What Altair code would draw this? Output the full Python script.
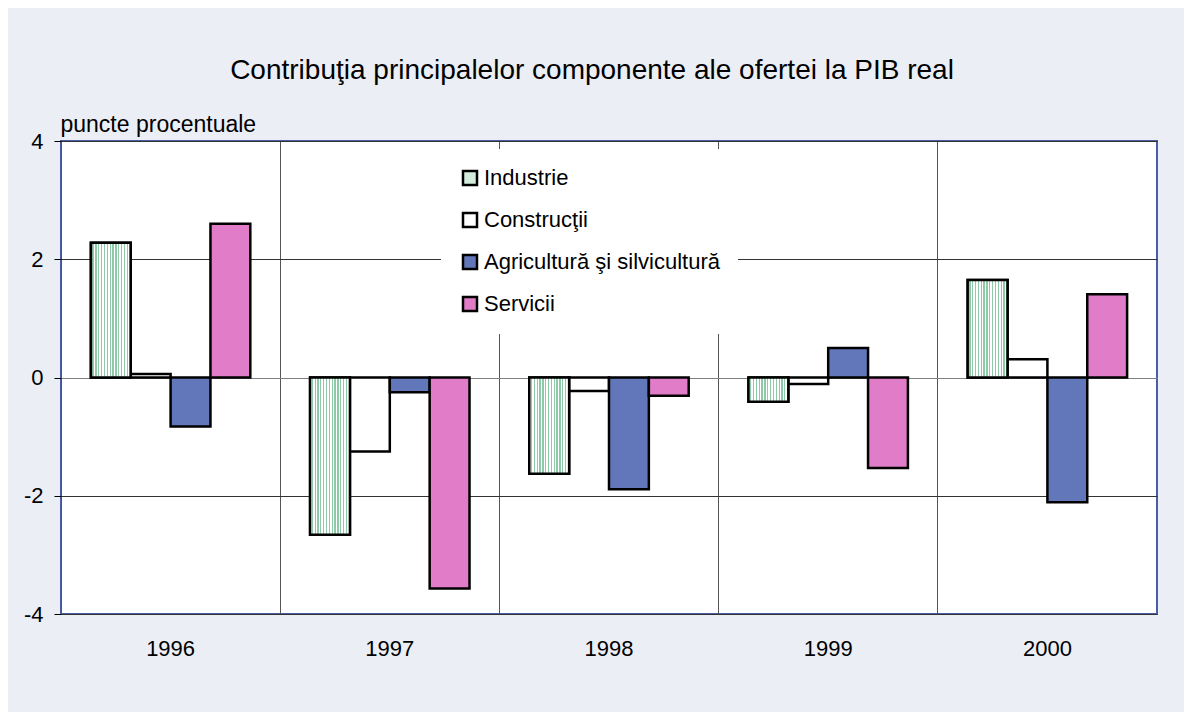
import altair as alt
import pandas as pd

years = ["1996", "1997", "1998", "1999", "2000"]
series = ["Industrie", "Construcţii", "Agricultură şi silvicultură", "Servicii"]
industrie = [2.28, -2.66, -1.63, -0.41, 1.65]
constructii = [0.06, -1.25, -0.23, -0.11, 0.31]
agricultura = [-0.83, -0.25, -1.89, 0.50, -2.11]
servicii = [2.60, -3.57, -0.31, -1.53, 1.41]
colors = ["#d3ecdc", "#ffffff", "#6277b9", "#e07cc8"]
y_ticks = [-4, -2, 0, 2, 4]

rows = []
for s, vals in zip(series, [industrie, constructii, agricultura, servicii]):
    for yr, v in zip(years, vals):
        rows.append({"an": yr, "serie": s, "val": v})
df = pd.DataFrame(rows)

FONT = "Liberation Sans"

# vertical thin stripes for Industrie
n = 14
stops = []
for i in range(n):
    stops += [
        alt.GradientStop(offset=i / n, color="#ffffff"),
        alt.GradientStop(offset=(i + 0.55) / n, color="#ffffff"),
        alt.GradientStop(offset=(i + 0.55) / n, color="#8fcaa8"),
        alt.GradientStop(offset=(i + 1) / n, color="#8fcaa8"),
    ]

x_enc = alt.X(
    "an:N",
    sort=years,
    title=None,
    scale=alt.Scale(paddingInner=0, paddingOuter=0),
    axis=alt.Axis(
        domain=False, ticks=False, grid=True, bandPosition=0,
        gridColor="#555555", gridWidth=1, labelAngle=0,
        labelFontSize=22, labelFont=FONT, labelColor="#000000",
        labelPadding=24,
    ),
)
xo_enc = alt.XOffset(
    "serie:N", sort=series,
    scale=alt.Scale(domain=series, paddingOuter=0.75, paddingInner=0),
)
y_enc = alt.Y(
    "val:Q",
    scale=alt.Scale(domain=[-4, 4], nice=False, zero=False),
    axis=alt.Axis(
        values=y_ticks, domain=False, tickColor="#000000", tickSize=7,
        labelExpr="toString(datum.value)",
        labelFontSize=22, labelFont=FONT, labelColor="#000000", labelPadding=11,
        grid=True,
        gridColor={"condition": {"test": "datum.value === 0", "value": "#808080"}, "value": "#333333"},
        title="puncte procentuale", titleAngle=0, titleAlign="left",
        titleBaseline="alphabetic", titleX=-1, titleY=-10,
        titleFontSize=23, titleFontWeight="normal", titleFont=FONT, titleColor="#000000",
    ),
)

base = alt.Chart(df).encode(x=x_enc, xOffset=xo_enc, y=y_enc)

bars = base.mark_bar(stroke="#000000", strokeWidth=2.5).encode(
    color=alt.Color(
        "serie:N", sort=series,
        scale=alt.Scale(domain=series, range=colors),
        legend=alt.Legend(
            title=None, orient="none", legendX=380, legendY=8,
            fillColor="#ffffff", padding=18,
            labelFontSize=22, labelFont=FONT, labelColor="#000000",
            symbolType="square", symbolSize=196,
            symbolStrokeColor="#000000", symbolStrokeWidth=2.5,
            rowPadding=18, labelOffset=3, labelLimit=400,
        ),
    )
)

ind = base.transform_filter(alt.datum.serie == "Industrie").mark_bar(
    stroke="#000000", strokeWidth=2.5,
    fill=alt.Gradient(gradient="linear", stops=stops, x1=0, x2=1, y1=0, y2=0),
)

chart = (
    alt.layer(bars, ind)
    .properties(
        width=1096, height=473,
        title=alt.TitleParams(
            "Contribuţia principalelor componente ale ofertei la PIB real",
            fontSize=28, font=FONT, fontWeight="normal", color="#000000",
            anchor="middle", dx=-17, offset=28,
        ),
        autosize=alt.AutoSizeParams(type="none"),
        padding={"left": 53, "top": 133, "right": 27, "bottom": 98},
        background="#eceef6",
    )
    .configure_view(stroke="#4a5ea8", strokeWidth=2, fill="#ffffff")
)

chart.save("out.html", embed_options={"renderer": "svg", "actions": False})
